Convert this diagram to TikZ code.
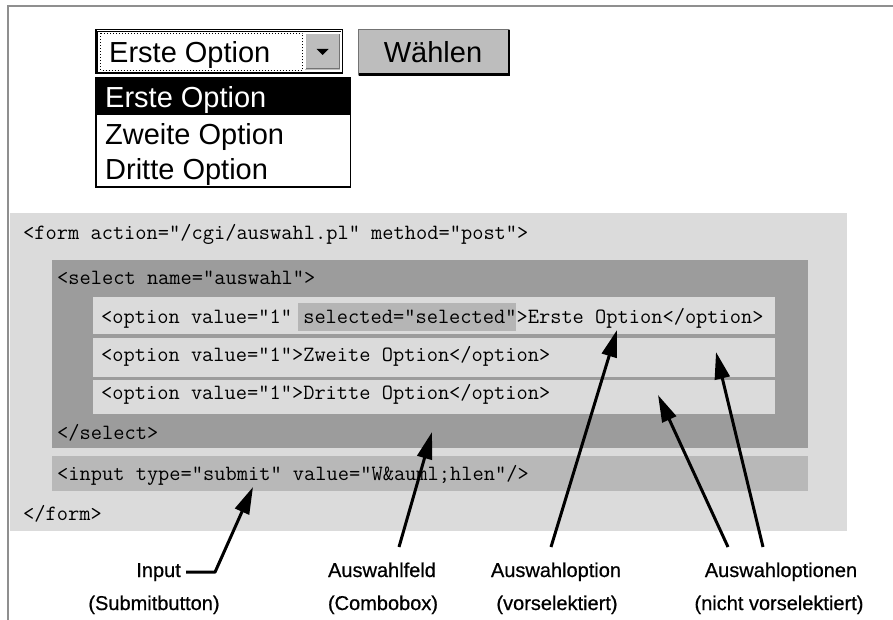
\documentclass[tikz,border=0pt]{standalone}
\usepackage{fontspec}
\setmainfont{Liberation Sans}
\usetikzlibrary{arrows.meta}

\definecolor{framegray}{gray}{0.56}
\definecolor{formgray}{gray}{0.86}
\definecolor{selectgray}{gray}{0.61}
\definecolor{inputgray}{gray}{0.72}
\definecolor{markgray}{gray}{0.71}
\definecolor{btngray}{gray}{0.74}
\definecolor{btndark}{gray}{0.45}

\tikzset{
  code/.style={font=\ttfamily\fontsize{21.8}{24}\selectfont\addfontfeature{FakeBold=1.6},
               anchor=base west, inner sep=0pt},
  widget/.style={font=\fontsize{29}{34}\selectfont, anchor=base west, inner sep=0pt},
  caption/.style={font=\fontsize{20}{24}\selectfont\addfontfeature{FakeBold=0.6}, anchor=base, inner sep=0pt},
  pointer/.style={line width=3pt, line join=round, -{Triangle[length=27pt,width=15pt]}},
}

\begin{document}
\begin{tikzpicture}[x=1pt,y=-1pt]
\useasboundingbox (0,0) rectangle (893,620);
\fill[white] (0,0) rectangle (893,620);
\draw[framegray, line width=2pt] (8,620) -- (8,6) -- (893,6);

% --- combobox (closed state)
\fill[white] (95,29) rectangle (343,74);
\draw[black, line width=1.5pt] (95.75,29.75) rectangle (342.25,73.25);
\draw[black, line width=1pt] (97.5,72) -- (97.5,31.5) -- (341,31.5);
\draw[black, dotted, line width=1pt] (100.5,33.5) rectangle (302.5,70.5);
\fill[btngray] (305,33) rectangle (340,70);
\draw[white, line width=1pt] (305.5,69.5) -- (305.5,33.5) -- (339.5,33.5);
\draw[btndark, line width=1pt] (306,68.5) -- (339,68.5) -- (339,34);
\fill[black] (316.5,49) -- (328.5,49) -- (322.5,55) -- cycle;
\node[widget] (comboText) at (109,63) {Erste Option};

% --- submit button
\fill[btngray] (358,29) rectangle (510,76);
\draw[black!55, line width=1pt] (358.5,75) -- (358.5,29.5) -- (509,29.5);
\draw[black, line width=2.5pt] (359,74.75) -- (508.75,74.75) -- (508.75,30);
\node[widget, anchor=base] (btnText) at (433,63) {Wählen};

% --- opened option list
\fill[white] (95,77) rectangle (351,188);
\fill[black] (95,77) rectangle (351,115);
\draw[black, line width=1.5pt] (95.75,77.75) rectangle (350.25,187.25);
\node[widget, text=white] (listA) at (105,108) {Erste Option};
\node[widget] (listB) at (105,145) {Zweite Option};
\node[widget] (listC) at (105,180) {Dritte Option};

% --- source code blocks
\fill[formgray] (10,213) rectangle (847,531);
\fill[selectgray] (52,260) rectangle (808,448);
\fill[formgray] (93,297) rectangle (775,334);
\fill[formgray] (93,338) rectangle (775,377);
\fill[formgray] (93,380) rectangle (775,414);
\fill[markgray] (298,303) rectangle (516,331);
\fill[inputgray] (52,456) rectangle (808,491);

\node[code] (formOpen) at (23,240) {<form action="/cgi/auswahl.pl" method="post">};
\node[code] (selOpen) at (57,284) {<select name="auswahl">};
\node[code] (optOne) at (101,323) {<option value="1" selected="selected">Erste Option</option>};
\node[code] (optTwo) at (101,361) {<option value="1">Zweite Option</option>};
\node[code] (optThree) at (101,399) {<option value="1">Dritte Option</option>};
\node[code] (selClose) at (57,439) {</select>};
\node[code] (inputTag) at (57,480) {<input type="submit" value="W\&auml;hlen"/>};
\node[code] (formClose) at (23,520) {</form>};

% --- captions
\node[caption, anchor=base east] (capInput) at (181,577) {Input};
\node[caption] (capInputSub) at (154,610) {(Submitbutton)};
\node[caption] (capField) at (382,577) {Auswahlfeld};
\node[caption] (capFieldSub) at (383,610) {(Combobox)};
\node[caption] (capSel) at (556,577) {Auswahloption};
\node[caption] (capSelSub) at (557,610) {(vorselektiert)};
\node[caption] (capOpts) at (781,577) {Auswahloptionen};
\node[caption] (capOptsSub) at (779,610) {(nicht vorselektiert)};

% --- pointer ends
\coordinate (tipInput) at (253,487);
\coordinate (tipField) at (432,432);
\coordinate (footField) at (399,547);
\coordinate (tipSel) at (617,330);
\coordinate (footSel) at (551,547);
\coordinate (tipOptB) at (658,395);
\coordinate (footOptB) at (728,547);
\coordinate (tipOptA) at (716,352);
\coordinate (footOptA) at (763,547);

\draw[pointer] ([xshift=5pt]capInput.east) -- ([xshift=34pt]capInput.east) -- (tipInput);
\draw[pointer] (footField) -- (tipField);
\draw[pointer] (footSel) -- (tipSel);
\draw[pointer] (footOptB) -- (tipOptB);
\draw[pointer] (footOptA) -- (tipOptA);
\end{tikzpicture}
\end{document}
